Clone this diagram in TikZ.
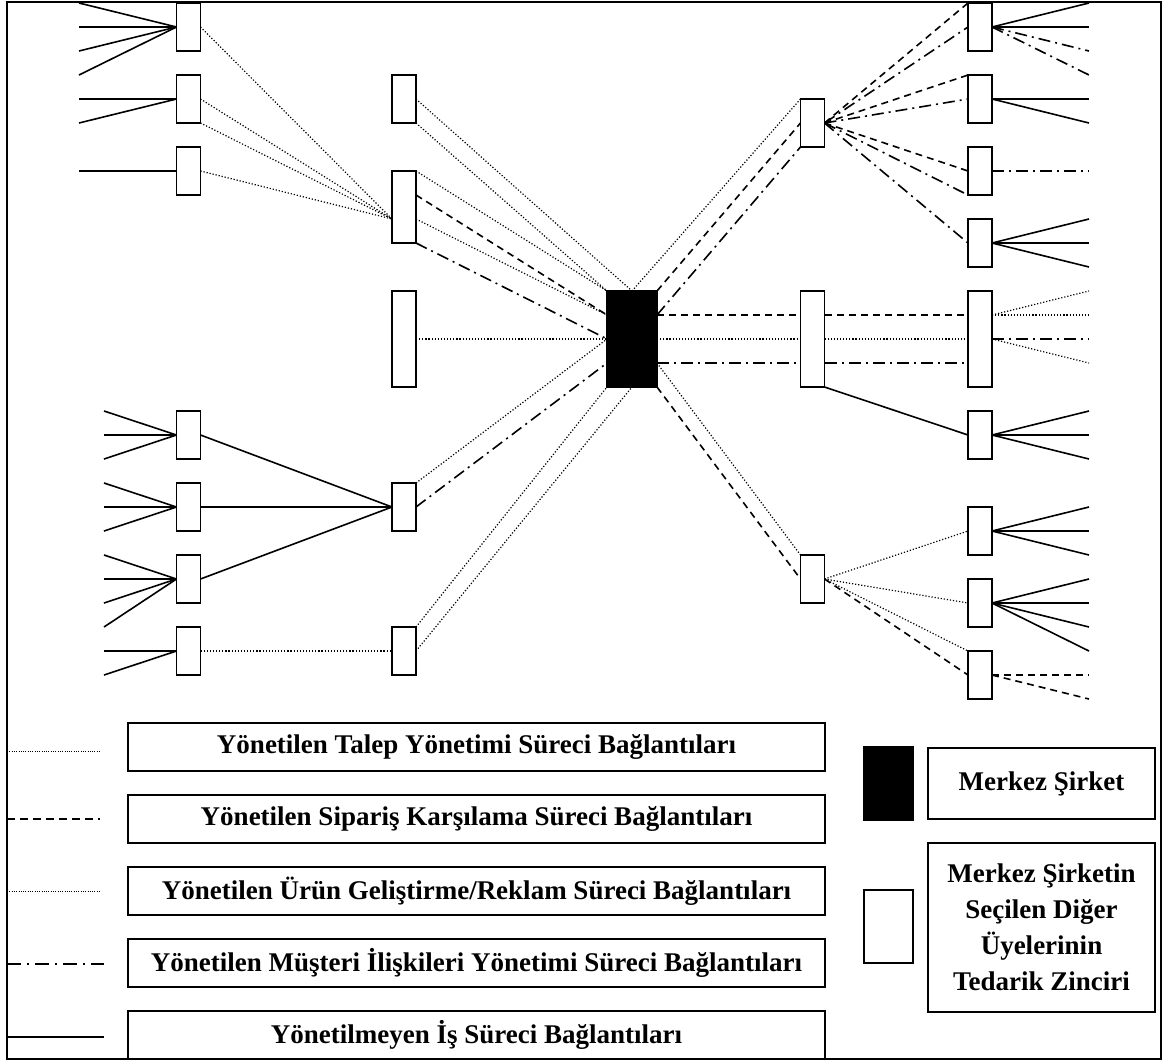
\documentclass[tikz,border=0pt]{standalone}
\usepackage{fontspec}
\setmainfont{Liberation Serif}
\usetikzlibrary{backgrounds}
\begin{document}
\begin{tikzpicture}[x=1pt,y=-1pt,
  box/.style={draw, fill=white, line width=1.6pt, minimum width=24pt, minimum height=48pt, inner sep=0pt, outer sep=0pt},
  tallbox/.style={box, minimum height=96pt},
  hub/.style={box, fill=black, minimum width=50pt, minimum height=96pt},
  talep/.style={line width=1.2pt, dash pattern=on 1.2pt off 1.9pt},
  siparis/.style={line width=1.6pt, dash pattern=on 7pt off 5pt},
  musteri/.style={line width=1.6pt, dash pattern=on 12pt off 5pt on 2pt off 5pt},
  yonetilmeyen/.style={line width=1.6pt},
  keytext/.style={draw, line width=1.6pt, inner sep=0pt, outer sep=0pt, align=center,
    font=\fontsize{27}{36}\selectfont\bfseries},
  legendbox/.style={keytext, minimum width=697pt, minimum height=48pt},
]
\useasboundingbox (0,0) rectangle (1163,1061);

% ---------- supply chain members ----------
\node[box] (L1) at (188.5,27) {};
\node[box] (L2) at (188.5,99) {};
\node[box] (L3) at (188.5,171) {};
\node[box] (M1) at (404,99) {};
\node[box, minimum height=72pt] (M2) at (404,207) {};
\node[tallbox] (M3) at (404,339) {};
\node[box] (LB1) at (188.5,435) {};
\node[box] (LB2) at (188.5,507) {};
\node[box] (LB3) at (188.5,579) {};
\node[box] (LB4) at (188.5,651) {};
\node[box] (M4) at (404,507) {};
\node[box] (M5) at (404,651) {};
\node[hub] (C) at (632,339) {};
\node[box] (R1) at (812.5,123) {};
\node[tallbox] (RM) at (812.5,339) {};
\node[box] (RL) at (812.5,579) {};
\node[box] (F1) at (980,27) {};
\node[box] (F2) at (980,99) {};
\node[box] (F3) at (980,171) {};
\node[box] (F4) at (980,243) {};
\node[tallbox] (FT) at (980,339) {};
\node[box] (F5) at (980,435) {};
\node[box] (F6) at (980,531) {};
\node[box] (F7) at (980,603) {};
\node[box] (F8) at (980,675) {};

\begin{pgfonlayer}{background}
% unmanaged links on the far left
\foreach \y in {3,27,51,75} {\coordinate (wL1-\y) at (79,\y); \draw[yonetilmeyen] (wL1-\y) -- (L1.west);}
\foreach \y in {99,123} {\coordinate (wL2-\y) at (79,\y); \draw[yonetilmeyen] (wL2-\y) -- (L2.west);}
\coordinate (wL3) at (79,171); \draw[yonetilmeyen] (wL3) -- (L3.west);
\foreach \y in {411,435,459} {\coordinate (wB1-\y) at (104,\y); \draw[yonetilmeyen] (wB1-\y) -- (LB1.west);}
\foreach \y in {483,507,531} {\coordinate (wB2-\y) at (104,\y); \draw[yonetilmeyen] (wB2-\y) -- (LB2.west);}
\foreach \y in {555,579,603,627} {\coordinate (wB3-\y) at (104,\y); \draw[yonetilmeyen] (wB3-\y) -- (LB3.west);}
\foreach \y in {651,675} {\coordinate (wB4-\y) at (104,\y); \draw[yonetilmeyen] (wB4-\y) -- (LB4.west);}

% upper left tier
\coordinate (m2in) at ([yshift=-12pt]M2.west);
\draw[talep] (L1.east) -- (m2in);
\draw[talep] (L2.east) -- (m2in);
\draw[talep] (L2.south east) -- (m2in);
\draw[talep] (L3.east) -- (m2in);

% into the focal company
\draw[talep] (M1.east) -- (C.north);
\draw[talep] (M1.south east) -- (C.north west);
\draw[talep] (M2.north east) -- (C.north west);
\draw[siparis] ([yshift=12pt]M2.east) -- ([yshift=24pt]C.west);
\draw[talep] ([yshift=-12pt]M2.east) -- ([yshift=24pt]C.west);
\draw[musteri] (M2.south east) -- (C.west);
\draw[talep] (M3.east) -- (C.west);
\draw[talep] (M4.north east) -- (C.west);
\draw[musteri] (M4.east) -- ([yshift=-24pt]C.west);
\draw[talep] (M5.north east) -- (C.south west);
\draw[talep] (M5.east) -- (C.south);

% lower left tier
\foreach \n in {LB1,LB2,LB3} \draw[yonetilmeyen] (\n.east) -- (M4.west);
\draw[talep] (LB4.east) -- (M5.west);

% out of the focal company
\draw[talep] (C.north) -- (R1.north west);
\draw[siparis] (C.north east) -- (R1.west);
\draw[musteri] ([yshift=24pt]C.east) -- (R1.south west);
\draw[siparis] ([yshift=24pt]C.east) -- ([yshift=24pt]FT.west);
\draw[talep] (C.east) -- (FT.west);
\draw[musteri] ([yshift=-24pt]C.east) -- ([yshift=-24pt]FT.west);
\draw[yonetilmeyen] (RM.south east) -- (F5.west);
\draw[talep] ([yshift=-24pt]C.east) -- (RL.north west);
\draw[siparis] (C.south east) -- (RL.west);

% upper right tier
\draw[siparis] (R1.east) -- (F1.north west);
\draw[musteri] (R1.east) -- (F1.west);
\draw[siparis] (R1.east) -- (F2.north west);
\draw[musteri] (R1.east) -- (F2.west);
\draw[siparis] (R1.east) -- (F3.west);
\draw[musteri] (R1.east) -- (F3.south west);
\draw[musteri] (R1.east) -- (F4.west);

% lower right tier
\draw[talep] (RL.east) -- (F6.west);
\draw[talep] (RL.east) -- (F7.west);
\draw[talep] (RL.east) -- (F8.north west);
\draw[siparis] (RL.east) -- (F8.west);

% far right ends
\foreach \y in {3,27} {\coordinate (eF1-\y) at (1089,\y); \draw[yonetilmeyen] (F1.east) -- (eF1-\y);}
\foreach \y in {51,75} {\coordinate (eF1-\y) at (1089,\y); \draw[musteri] (F1.east) -- (eF1-\y);}
\foreach \y in {99,123} {\coordinate (eF2-\y) at (1089,\y); \draw[yonetilmeyen] (F2.east) -- (eF2-\y);}
\coordinate (eF3) at (1089,171); \draw[musteri] (F3.east) -- (eF3);
\foreach \y in {219,243,267} {\coordinate (eF4-\y) at (1089,\y); \draw[yonetilmeyen] (F4.east) -- (eF4-\y);}
\foreach \y in {291,315} {\coordinate (eFT-\y) at (1089,\y); \draw[talep] ([yshift=24pt]FT.east) -- (eFT-\y);}
\coordinate (eFT-339) at (1089,339); \draw[musteri] (FT.east) -- (eFT-339);
\coordinate (eFT-363) at (1089,363); \draw[talep] (FT.east) -- (eFT-363);
\foreach \y in {411,435,459} {\coordinate (eF5-\y) at (1089,\y); \draw[yonetilmeyen] (F5.east) -- (eF5-\y);}
\foreach \y in {507,531,555} {\coordinate (eF6-\y) at (1089,\y); \draw[yonetilmeyen] (F6.east) -- (eF6-\y);}
\foreach \y in {579,603,627,651} {\coordinate (eF7-\y) at (1089,\y); \draw[yonetilmeyen] (F7.east) -- (eF7-\y);}
\foreach \y in {675,699} {\coordinate (eF8-\y) at (1089,\y); \draw[siparis] (F8.east) -- (eF8-\y);}
\end{pgfonlayer}

% ---------- legend ----------
\node[legendbox] (T1) at (476.5,747) {Yönetilen Talep Yönetimi Süreci Bağlantıları};
\node[legendbox] (T2) at (476.5,819) {Yönetilen Sipariş Karşılama Süreci Bağlantıları};
\node[legendbox] (T3) at (476.5,891) {Yönetilen Ürün Geliştirme/Reklam Süreci Bağlantıları};
\node[legendbox] (T4) at (476.5,963) {Yönetilen Müşteri İlişkileri Yönetimi Süreci Bağlantıları};
\node[legendbox] (T5) at (476.5,1035) {Yönetilmeyen İş Süreci Bağlantıları};

\coordinate (k1a) at (7,751);  \coordinate (k1b) at (100,751);
\coordinate (k2a) at (7,819);  \coordinate (k2b) at (100,819);
\coordinate (k3a) at (7,891);  \coordinate (k3b) at (100,891);
\coordinate (k4a) at (7,964);  \coordinate (k4b) at (104,964);
\coordinate (k5a) at (7,1037); \coordinate (k5b) at (104,1037);
\draw[line width=0.9pt, dash pattern=on 0.9pt off 1.4pt] (k1a) -- (k1b);
\draw[line width=1.6pt, dash pattern=on 8pt off 5pt] (k2a) -- (k2b);
\draw[line width=0.9pt, dash pattern=on 0.9pt off 1.4pt] (k3a) -- (k3b);
\draw[line width=1.6pt, dash pattern=on 14pt off 6pt on 2pt off 6pt] (k4a) -- (k4b);
\draw[line width=1.6pt] (k5a) -- (k5b);

\node[draw, fill=black, line width=1.6pt, minimum width=49pt, minimum height=73pt, inner sep=0pt, outer sep=0pt] (KC) at (888.5,783.5) {};
\node[keytext, minimum width=227pt, minimum height=71pt] (KCt) at (1041.5,783.5) {Merkez Şirket};
\node[box, minimum width=49pt, minimum height=73pt] (KO) at (888.5,926.5) {};
\node[keytext, minimum width=227pt, minimum height=169pt] (KOt) at (1041.5,927.5) {Merkez Şirketin\\Seçilen Diğer\\Üyelerinin\\Tedarik Zinciri};

% outer frame
\draw[line width=2pt] (7,2) rectangle (1161,1059);
\end{tikzpicture}
\end{document}
